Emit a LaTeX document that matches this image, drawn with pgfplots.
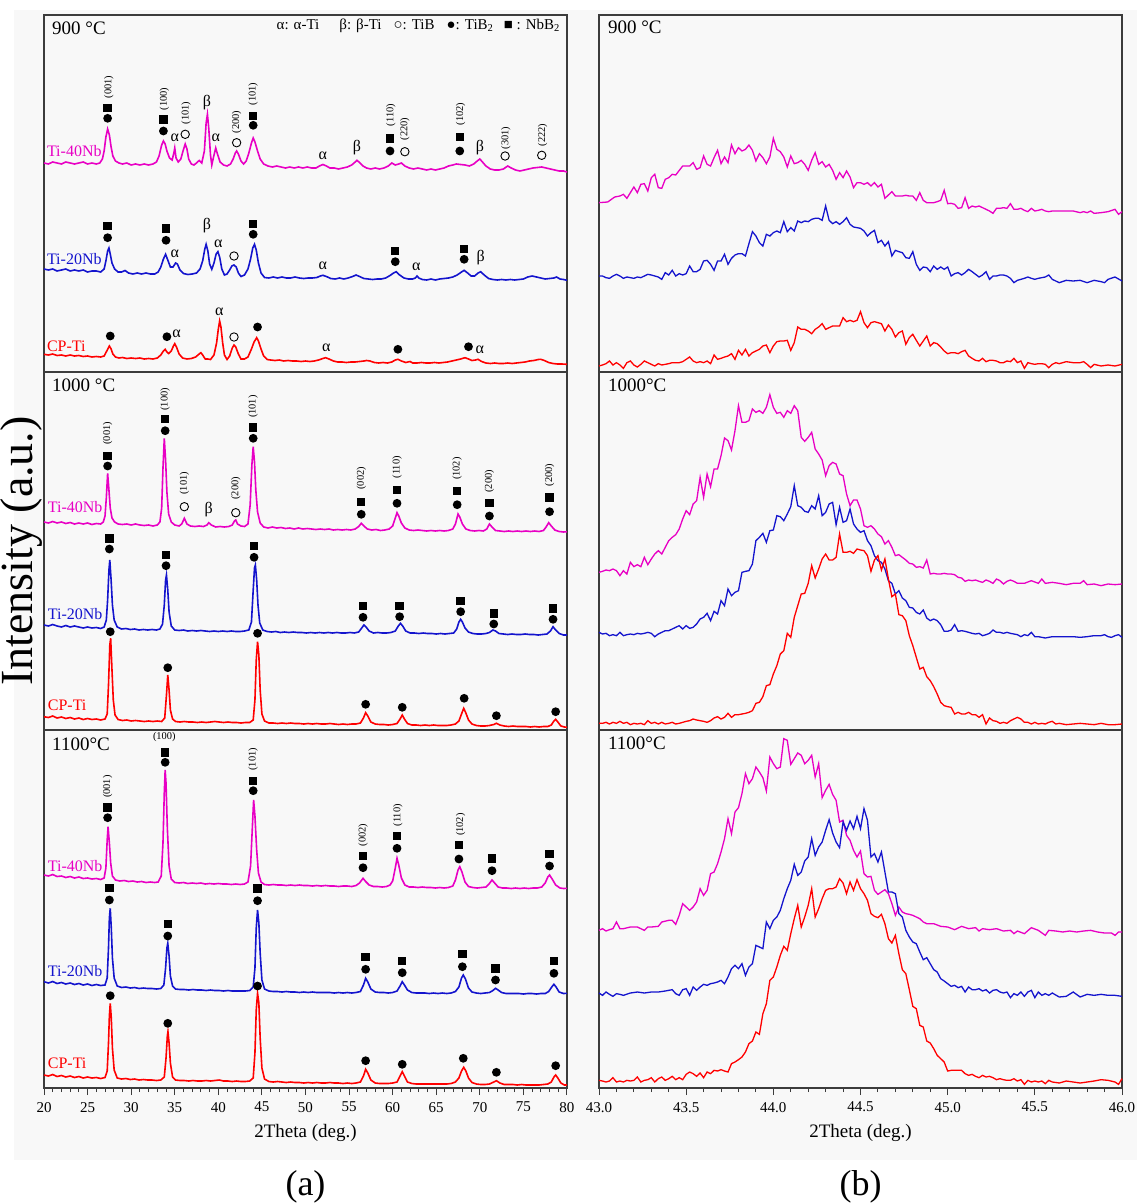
\documentclass[border=0pt]{standalone}
\usepackage{pgfplots}
\pgfplotsset{compat=1.18}
\usepackage{fontspec}
\setmainfont{Liberation Serif}
\definecolor{bgc}{HTML}{F8F8F8}
\definecolor{framec}{HTML}{3C3C3C}
\definecolor{magc}{RGB}{232,0,196}
\definecolor{bluc}{RGB}{20,20,205}
\definecolor{redc}{RGB}{255,0,0}
\newcommand{\D}[2]{\node[circle,fill=black,inner sep=0pt,minimum size=4.4pt] at (axis cs:#1,#2) {};}
\newcommand{\Sq}[2]{\node[rectangle,fill=black,inner sep=0pt,minimum size=4.2pt] at (axis cs:#1,#2) {};}
\newcommand{\Oc}[2]{\node[circle,draw=black,line width=0.45pt,inner sep=0pt,minimum size=4.2pt] at (axis cs:#1,#2) {};}
\newcommand{\Al}[2]{\node[font=\fontsize{8}{9}\selectfont,inner sep=0pt] at (axis cs:#1,#2) {α};}
\newcommand{\Be}[2]{\node[font=\fontsize{8}{9}\selectfont,inner sep=0pt] at (axis cs:#1,#2) {β};}
\newcommand{\Hk}[3]{\node[rotate=90,font=\fontsize{5.2}{6}\selectfont,inner sep=0pt] at (axis cs:#1,#2) {#3};}
\newcommand{\Lb}[4]{\node[anchor=west,text=#1,font=\fontsize{8}{9}\selectfont,inner sep=0pt] at (axis cs:#2,#3) {#4};}
\newcommand{\Ttl}[3]{\node[anchor=west,font=\fontsize{9.5}{11}\selectfont,inner sep=0pt] at (axis cs:#1,#2) {#3};}
\pgfplotsset{
 panel/.style={scale only axis, width=261.5pt, height=179pt, anchor=north west,
   axis background/.style={fill=bgc}, axis line style={draw=framec,line width=0.6pt},
   xtick=\empty, ytick=\empty, clip=false},
 lpanel/.style={panel, xmin=20, xmax=80, ymin=0, ymax=358, every axis plot/.append style={line width=0.8pt}},
 rpanel/.style={panel, xmin=43, xmax=46, every axis plot/.append style={line width=0.65pt}},
 bottomticks/.style={tick align=outside, xtick pos=left, minor x tick num=4,
   major tick length=3.5pt, minor tick length=2pt, tick style={framec,line width=0.5pt},
   xticklabel style={font=\fontsize{7.5}{9}\selectfont}, /pgf/number format/assume math mode=true}
}
\begin{document}
\begin{tikzpicture}
\useasboundingbox (0,0) rectangle (568.5pt,-602pt);
\fill[bgc] (7pt,-5pt) rectangle (568.5pt,-580pt);
%================ LEFT 900 ================
\begin{axis}[lpanel, at={(22pt,-7.5pt)}]
\addplot[magc] coordinates {(20,210)(20.5,209)(21,211)(21.5,210)(22,209)(22.5,211)(23,210)(23.5,209)(24,210)(24.5,211)(25,209)(25.5,210)(26,209)(26.4,210)(26.7,214)(26.9,222)(27.1,236)(27.3,244)(27.5,238)(27.7,226)(27.9,217)(28.2,212)(28.6,210)(29,209)(29.5,210)(30,208)(30.5,209)(31,208)(31.5,209)(32,208)(32.5,209)(32.9,211)(33.2,217)(33.5,228)(33.7,232)(33.9,229)(34.1,222)(34.4,215)(34.7,213)(34.9,220)(35,225)(35.15,215)(35.4,211)(35.7,214)(35.95,222)(36.2,229)(36.4,224)(36.6,214)(36.9,209)(37.2,208)(37.5,210)(37.8,212.5)(38.1,210)(38.4,222)(38.6,250)(38.75,258.7)(38.9,245)(39.1,218)(39.25,208)(39.45,216)(39.7,225)(39.9,219)(40.2,211)(40.6,208)(41,207)(41.4,209)(41.7,214)(41.95,220)(42.1,222)(42.3,219)(42.6,212)(42.9,209)(43.2,212)(43.5,220)(43.8,230)(44,235)(44.2,231)(44.5,222)(44.8,214)(45.2,209)(45.7,207)(46.2,206)(46.7,207)(47.2,206)(47.7,205)(48.2,206)(48.7,205)(49.2,206)(49.7,205)(50.2,206)(50.7,205)(51.2,205)(51.6,207)(52,208.5)(52.4,207)(52.8,205)(53.3,205)(53.8,204)(54.3,205)(54.8,206)(55.3,208)(55.7,211)(55.9,212.7)(56.2,210.5)(56.6,207)(57,205)(57.5,204)(58,205)(58.5,204)(59,205)(59.5,207)(59.9,210)(60.3,208)(60.7,209)(61,210)(61.4,207)(61.9,205)(62.4,204)(62.9,205)(63.4,204)(63.9,203)(64.4,204)(64.9,203)(65.4,204)(65.9,205)(66.4,207)(66.9,208)(67.3,209)(67.8,208.5)(68.3,208)(68.8,207)(69.3,209)(69.7,212)(70,214)(70.3,211)(70.7,207)(71.2,204)(71.7,203)(72.2,203)(72.7,204)(73.2,207)(73.6,205)(74.1,203)(74.6,202)(75.1,203)(75.6,204)(76.1,205)(76.6,205.5)(77.1,206)(77.6,205)(78.1,204)(78.6,203)(79.1,202)(79.6,202)(80,201)};
\addplot[bluc] coordinates {(20,104)(20.5,103)(21,104)(21.5,102)(22,103)(22.5,104)(23,102)(23.5,103)(24,102)(24.5,103)(25,101)(25.5,102)(26,102)(26.5,101)(26.9,104)(27.1,112)(27.3,122)(27.45,125)(27.6,119)(27.8,110)(28.1,104)(28.5,101)(28.9,101)(29.3,102.5)(29.7,100)(30.2,99)(30.7,100)(31.2,99)(31.7,100)(32.2,99)(32.7,99)(33.1,101)(33.4,106)(33.7,114)(33.95,118.7)(34.2,113)(34.5,106)(34.8,106)(35.1,110)(35.3,109)(35.6,103)(36,99.5)(36.5,98.5)(37,99)(37.5,100)(37.9,104)(38.2,112)(38.45,124)(38.6,128.7)(38.8,122)(39,109)(39.25,103.7)(39.5,110)(39.75,119)(39.95,121.3)(40.15,116)(40.4,104)(40.7,98)(41,99)(41.3,103)(41.55,107)(41.8,108)(42.05,106)(42.3,100)(42.6,96.5)(43,98)(43.4,104)(43.7,114)(43.95,125)(44.15,128.7)(44.35,123)(44.6,110)(44.9,100)(45.3,95.5)(45.8,95)(46.3,96)(46.8,95)(47.3,96)(47.8,95)(48.3,95)(48.8,96)(49.3,95)(49.8,94.5)(50.3,95)(50.8,95)(51.3,95.5)(51.7,97)(52,97.7)(52.4,96.5)(52.9,94.5)(53.4,94)(53.9,95)(54.4,94)(54.9,95)(55.4,96.5)(55.8,98)(56.2,96.5)(56.7,94.5)(57.2,94)(57.7,93.5)(58.2,94)(58.7,94)(59.2,95)(59.7,97.5)(60.1,100)(60.4,101.3)(60.8,98)(61.3,95)(61.8,94)(62.3,94)(62.6,95)(62.8,97)(63,95)(63.4,93.5)(63.9,93)(64.4,94)(64.9,93)(65.4,94)(65.9,94.5)(66.4,95)(66.9,96)(67.4,98)(67.9,101)(68.2,102.7)(68.6,100)(69,97)(69.4,97)(69.8,100)(70.1,101.3)(70.5,98)(71,94.5)(71.5,93.5)(72,93)(72.5,93.5)(73,93)(73.5,93.5)(74,93)(74.5,93.5)(75,94)(75.5,96)(76,97)(76.5,96)(77,95)(77.5,94)(78,94.5)(78.5,95)(78.8,96)(79.2,94)(79.6,93.5)(80,92.7)};
\addplot[redc] coordinates {(20,18.7)(20.5,18)(21,19)(21.5,17.5)(22,18)(22.5,17)(23,18)(23.5,17)(24,17.5)(24.5,16.5)(25,17)(25.5,16)(26,16.5)(26.5,16)(26.9,17)(27.2,22)(27.5,27)(27.7,24)(27.9,19)(28.2,16)(28.6,15)(29,15.5)(29.5,14.5)(30,15)(30.5,14.5)(31,15)(31.5,14)(32,14.5)(32.5,14)(33,15)(33.4,18)(33.7,22)(33.9,23.7)(34.1,21)(34.3,19.5)(34.6,22)(34.85,27)(35,29.3)(35.2,26)(35.5,19)(35.9,15)(36.4,14)(36.9,14.5)(37.4,16)(37.8,19)(38,20.3)(38.2,18)(38.5,14)(38.8,14)(39.1,13.5)(39.5,18)(39.8,30)(40,44)(40.15,52)(40.3,46)(40.5,30)(40.7,18)(41,13.5)(41.3,17)(41.6,25)(41.8,28)(42,26)(42.3,19)(42.6,14)(43,14)(43.4,16)(43.8,24)(44.1,31)(44.4,35.3)(44.6,32)(44.9,24)(45.2,17)(45.6,13.5)(46,13)(46.5,12.5)(47,13)(47.5,12)(48,12.5)(48.5,12)(49,12)(49.5,11.5)(50,12)(50.5,11.5)(51,12)(51.5,13)(52,14.5)(52.3,15.3)(52.7,14)(53.2,12)(53.7,11)(54.2,11)(54.7,10.5)(55.2,11)(55.7,11)(56.2,11.5)(56.7,12)(57,12.5)(57.4,12)(57.9,10.5)(58.4,10)(58.9,10.5)(59.4,10)(59.9,11)(60.3,13)(60.6,13.7)(61,12)(61.5,10.5)(62,11.5)(62.3,10)(62.8,10)(63.3,10.5)(63.8,10)(64.3,10)(64.8,10.5)(65.3,10)(65.8,10.5)(66.3,11)(66.8,12)(67.3,13)(67.8,14)(68.3,15.3)(68.7,14)(69.1,12.5)(69.5,13)(69.8,13.7)(70.2,11.5)(70.7,10)(71.2,9.5)(71.7,10)(72.2,9.5)(72.7,9.5)(73.2,10)(73.7,9.5)(74.2,10)(74.7,10.5)(75.2,11)(75.7,12)(76.2,12.5)(76.7,13.5)(77,13.7)(77.4,12.5)(77.9,10.5)(78.4,9.5)(78.9,9)(79.4,9)(80,8.7)};
\Ttl{20.9}{345}{900 °C}
\node[anchor=east,font=\fontsize{7.5}{9}\selectfont,inner sep=0pt] at (axis cs:79.3,347) {α: α-Ti\hspace{10pt}β: β-Ti\hspace{6pt}○: TiB\hspace{6pt}●: TiB\textsubscript{2}\hspace{5pt}■ : NbB\textsubscript{2}};
\Lb{magc}{20.3}{222}{Ti-40Nb} \Lb{bluc}{20.3}{113.7}{Ti-20Nb} \Lb{redc}{20.3}{27}{CP-Ti}
\Sq{27.3}{265.3} \D{27.3}{254.7} \Hk{27.45}{286}{(001)}
\Sq{33.7}{253.7} \D{33.7}{242} \Hk{33.8}{274}{(100)}
\Al{35.0}{234.7}
\Oc{36.2}{238.7} \Hk{36.3}{260}{(101)}
\Be{38.7}{270.3}
\Al{39.7}{235.3}
\Oc{42.1}{230.3} \Hk{42.1}{251}{(200)}
\Sq{44.0}{257} \D{44.0}{247.7} \Hk{44.0}{279}{(101)}
\Al{52.0}{217}
\Be{55.9}{225.3}
\Sq{59.7}{234.7} \D{59.7}{222} \Hk{59.8}{258}{(110)}
\Oc{61.4}{221.3} \Hk{61.4}{244}{(220)}
\Sq{67.7}{236.3} \D{67.7}{222} \Hk{67.8}{259}{(102)}
\Be{70.0}{225.3}
\Oc{72.9}{217} \Hk{73.0}{235}{(301)}
\Oc{77.1}{217.7} \Hk{77.2}{238}{(222)}
\Sq{27.3}{147} \D{27.3}{135.3}
\Sq{34.0}{144.7} \D{34.0}{132.7}
\Al{35.0}{119.3}
\Be{38.7}{147}
\Al{40.0}{129.3}
\Oc{41.8}{117}
\Sq{44.0}{149.3} \D{44.0}{138.7}
\Al{52.0}{107}
\Sq{60.3}{122} \D{60.3}{111.3}
\Al{62.7}{106}
\Sq{68.2}{124.3} \D{68.2}{113.7}
\Be{70.1}{115.3}
\D{27.6}{37}
\D{34.1}{36.3} \Al{35.2}{38.7}
\Al{40.1}{61.3}
\Oc{41.8}{36}
\D{44.5}{46}
\Al{52.4}{25.3}
\D{60.6}{23.7}
\D{68.7}{26.3} \Al{70.0}{22.7}
\end{axis}
%================ LEFT 1000 ================
\begin{axis}[lpanel, at={(22pt,-186pt)}]
\addplot[magc] coordinates {(20,208)(20.5,207)(21,208.5)(21.5,207)(22,208)(22.5,206.5)(23,207.5)(23.5,206)(24,207)(24.5,206)(25,207)(25.5,205.5)(26,206.5)(26.5,206)(26.8,208)(27,214)(27.15,232)(27.3,256.7)(27.45,240)(27.6,222)(27.8,212)(28.1,208)(28.5,206)(29,205.5)(29.5,206)(30,205)(30.5,206)(31,205)(31.5,204.5)(32,205)(32.5,204)(33,205)(33.3,208)(33.5,222)(33.65,262)(33.8,291.7)(33.95,270)(34.1,238)(34.3,216)(34.6,208)(35,205)(35.5,204)(35.8,206)(36.1,211.7)(36.4,206)(36.8,204)(37.3,203.5)(37.8,204)(38.3,203.5)(38.7,205)(38.9,207.3)(39.2,205)(39.7,203)(40.2,203.5)(40.7,203)(41.2,203.5)(41.6,205)(41.85,209)(42,210)(42.2,206)(42.6,204)(43,203.5)(43.4,206)(43.65,225)(43.85,265)(44,283.3)(44.15,268)(44.3,240)(44.5,218)(44.8,207)(45.2,203)(45.7,202)(46.2,203)(46.7,202)(47.2,202.5)(47.7,201.5)(48.2,202)(48.7,201)(49.2,202)(49.7,201)(50.2,201.5)(50.7,201)(51.2,200.5)(51.7,201)(52.2,200.5)(52.7,201)(53.2,200)(53.7,200.5)(54.2,200)(54.7,200.5)(55.2,200)(55.7,201)(56.1,203.5)(56.4,206.7)(56.7,204)(57.1,201)(57.6,200)(58.1,200.5)(58.6,199.5)(59.1,200)(59.6,201)(60,204)(60.3,212)(60.5,217.3)(60.7,214)(61,207)(61.4,202)(61.9,200)(62.4,199.5)(62.9,200)(63.4,199.5)(63.9,199)(64.4,199.5)(64.9,199)(65.4,199.5)(65.9,199)(66.4,199.5)(66.9,201)(67.2,206)(67.5,216)(67.7,213)(68,206)(68.4,201)(68.9,199.5)(69.4,199)(69.9,199.5)(70.4,199)(70.8,201)(71.1,206)(71.4,203)(71.8,199.5)(72.3,199)(72.8,198.5)(73.3,199)(73.8,198.5)(74.3,199)(74.8,198.5)(75.3,199)(75.8,198.5)(76.3,199)(76.8,198.5)(77.3,199.5)(77.6,203)(77.9,207.3)(78.2,204)(78.6,200)(79.1,198.5)(79.6,198)(80,198.3)};
\addplot[bluc] coordinates {(20,105)(20.5,104)(21,105.5)(21.5,104)(22,103)(22.5,104.5)(23,103)(23.5,104)(24,103)(24.5,102)(25,103)(25.5,102)(26,102.5)(26.5,101.5)(26.9,103)(27.15,110)(27.3,130)(27.45,160)(27.55,170)(27.7,150)(27.85,125)(28.05,110)(28.4,103)(28.9,101)(29.4,101.5)(29.9,100.5)(30.4,101)(30.9,100)(31.4,100.5)(31.9,100)(32.4,100.5)(32.9,100)(33.3,101)(33.6,106)(33.8,125)(33.95,150)(34.05,155)(34.2,140)(34.35,118)(34.6,104)(35,100)(35.5,99.5)(36,100)(36.5,99)(37,99.5)(37.5,99)(38,99.5)(38.5,99)(39,98.5)(39.5,99)(40,98.5)(40.5,99)(41,98.5)(41.5,99)(42,98.5)(42.5,98.5)(43,99)(43.5,100)(43.8,108)(44,140)(44.15,162)(44.25,165)(44.4,150)(44.55,125)(44.75,107)(45.1,100)(45.6,98.5)(46.1,98)(46.6,98.5)(47.1,97.5)(47.6,98)(48.1,97.5)(48.6,98)(49.1,97.5)(49.6,97.5)(50.1,97)(50.6,97.5)(51.1,97)(51.6,97.5)(52.1,97)(52.6,97.5)(53.1,97)(53.6,97.5)(54.1,97)(54.6,97)(55.1,97.5)(55.6,97)(56.1,98)(56.45,102)(56.7,105)(56.95,103)(57.3,99)(57.8,97)(58.3,97.5)(58.8,97)(59.3,97)(59.8,97.5)(60.3,99)(60.65,104)(60.9,106.7)(61.15,104)(61.5,99)(62,97)(62.5,97)(63,96.5)(63.5,97)(64,96.5)(64.5,96.5)(65,96)(65.5,96.5)(66,96)(66.5,96.5)(67,97)(67.35,101)(67.6,108)(67.8,110.7)(68,108)(68.3,102)(68.7,98)(69.2,96.5)(69.7,96)(70.2,96)(70.7,96.5)(71.1,97.5)(71.5,100)(71.8,99)(72.2,96.5)(72.7,96)(73.2,95.5)(73.7,96)(74.2,95.5)(74.7,95.5)(75.2,96)(75.7,95.5)(76.2,95.5)(76.7,95)(77.2,95.5)(77.7,96)(78.1,99)(78.4,103.3)(78.7,100)(79.1,96.5)(79.6,95)(80,95)};
\addplot[redc] coordinates {(20,13.3)(20.5,12.5)(21,14)(21.5,12)(22,13)(22.5,11.5)(23,12.5)(23.5,11)(24,12)(24.5,10.5)(25,11.5)(25.5,10.5)(26,11)(26.5,10)(27,11)(27.25,16)(27.4,45)(27.55,85)(27.65,91.7)(27.8,60)(27.95,30)(28.15,15)(28.5,10.5)(29,9.5)(29.5,10)(30,9)(30.5,9.5)(31,9)(31.5,8.5)(32,9)(32.5,8.5)(33,9)(33.5,8.5)(33.85,12)(34.05,35)(34.2,55)(34.35,40)(34.5,20)(34.75,11)(35.1,8.5)(35.6,8)(36.1,8.5)(36.6,8)(37.1,8)(37.6,7.5)(38.1,8)(38.6,7.5)(39.1,8)(39.6,8.5)(40.1,8)(40.6,7.5)(41.1,8)(41.6,7.5)(42.1,7.5)(42.6,7)(43.1,7.5)(43.6,7.5)(44,10)(44.2,30)(44.35,70)(44.5,88.3)(44.65,75)(44.8,40)(45,16)(45.3,9)(45.8,7)(46.3,7)(46.8,6.5)(47.3,7)(47.8,6.5)(48.3,7)(48.8,6.5)(49.3,6.5)(49.8,6)(50.3,6.5)(50.8,6)(51.3,6.5)(51.8,6)(52.3,6)(52.8,6.5)(53.3,6)(53.8,5.5)(54.3,6)(54.8,5.5)(55.3,6)(55.8,6)(56.3,7)(56.65,12)(56.9,17.3)(57.15,14)(57.5,8)(58,6)(58.5,5.5)(59,5.5)(59.5,5)(60,5.5)(60.5,6.5)(60.85,11)(61.1,15)(61.35,11)(61.7,6.5)(62.2,5)(62.7,5)(63.2,4.5)(63.7,5)(64.2,4.5)(64.7,5)(65.2,4.5)(65.7,4.5)(66.2,4.5)(66.7,5)(67.2,6)(67.6,9)(67.9,16)(68.15,21.7)(68.4,17)(68.7,10)(69.1,6)(69.6,4.5)(70.1,4)(70.6,4)(71.1,4.5)(71.6,5.5)(71.9,6.7)(72.3,5)(72.8,4)(73.3,3.5)(73.8,4)(74.3,3.5)(74.8,3.5)(75.3,3.5)(75.8,3)(76.3,3.5)(76.8,3)(77.3,3.5)(77.8,3.5)(78.2,5)(78.5,9)(78.7,10.7)(78.95,8)(79.3,4)(79.7,3)(80,2.7)};
\Ttl{20.9}{345}{1000 °C}
\Lb{magc}{20.4}{222.7}{Ti-40Nb} \Lb{bluc}{20.4}{115.7}{Ti-20Nb} \Lb{redc}{20.4}{25}{CP-Ti}
\Sq{27.3}{274} \D{27.3}{264} \Hk{27.3}{296.7}{(001)}
\Sq{33.9}{311} \D{33.9}{299.3} \Hk{33.9}{330.7}{(100)}
\Oc{36.1}{223.3} \Hk{36.1}{246.7}{(101)}
\Be{38.9}{220}
\Oc{42.0}{217.3} \Hk{42.0}{241.7}{(200)}
\Sq{44.0}{302.7} \D{44.0}{291.7} \Hk{44.0}{323.3}{(101)}
\Sq{56.4}{228.3} \D{56.4}{215.7} \Hk{56.4}{251.7}{(002)}
\Sq{60.5}{240} \D{60.5}{226.7} \Hk{60.5}{262.7}{(110)}
\Sq{67.4}{239.3} \D{67.4}{225.3} \Hk{67.4}{261.3}{(102)}
\Sq{71.1}{227.3} \D{71.1}{214} \Hk{71.1}{248.7}{(200)}
\Sq{78.0}{232.7} \D{78.0}{218.3} \Hk{78.0}{255}{(200)}
\Sq{27.5}{191.7} \D{27.5}{181}
\Sq{34.0}{175} \D{34.0}{164.3}
\Sq{44.1}{184} \D{44.1}{172.7}
\Sq{56.6}{124} \D{56.6}{112.7}
\Sq{60.8}{124} \D{60.8}{113.3}
\Sq{67.8}{129.3} \D{67.8}{118.3}
\Sq{71.6}{116.7} \D{71.6}{106}
\Sq{78.4}{121.7} \D{78.4}{110.7}
\D{27.6}{98.3} \D{34.2}{62.3} \D{44.5}{96.7} \D{56.9}{25.7} \D{61.1}{22.7} \D{68.2}{31.7} \D{71.9}{14.3} \D{78.7}{18.3}
\end{axis}
%================ LEFT 1100 ================
\begin{axis}[lpanel, bottomticks, at={(22pt,-365pt)}, xtick={20,25,30,35,40,45,50,55,60,65,70,75,80}]
\addplot[magc] coordinates {(20,213)(20.5,212)(21,213.5)(21.5,211.5)(22,212)(22.5,210.5)(23,211.5)(23.5,210)(24,211)(24.5,209.5)(25,210)(25.5,209)(26,209.5)(26.5,208.5)(26.9,210)(27.1,220)(27.25,248)(27.35,261.3)(27.5,245)(27.65,225)(27.85,212)(28.2,208)(28.7,207)(29.2,207.5)(29.7,206.5)(30.2,207)(30.7,206)(31.2,206.5)(31.7,205.5)(32.2,206)(32.7,205.5)(33.1,206)(33.45,212)(33.65,245)(33.8,295)(33.9,318)(34,305)(34.15,260)(34.35,222)(34.6,209)(35,205.5)(35.5,205)(36,205.5)(36.5,204.5)(37,205)(37.5,204.5)(38,205)(38.5,204)(39,204.5)(39.5,204)(40,204.5)(40.5,204)(41,204)(41.5,203.5)(42,204)(42.5,203.5)(43,204)(43.4,206)(43.7,222)(43.9,260)(44.05,288)(44.2,272)(44.4,238)(44.6,215)(44.9,206)(45.3,203.5)(45.8,203)(46.3,203.5)(46.8,203)(47.3,203)(47.8,202.5)(48.3,203)(48.8,202.5)(49.3,203)(49.8,202.5)(50.3,202.5)(50.8,202)(51.3,202.5)(51.8,202)(52.3,202.5)(52.8,202)(53.3,202)(53.8,201.5)(54.3,202)(54.8,202)(55.3,201.5)(55.8,202.5)(56.2,205)(56.6,209.7)(56.9,206.5)(57.3,203)(57.8,201.5)(58.3,201.5)(58.8,201)(59.3,201.5)(59.7,203)(60,207)(60.3,220)(60.5,229.7)(60.7,223)(61,210)(61.4,203)(61.9,201)(62.4,201)(62.9,200.5)(63.4,201)(63.9,200.5)(64.4,200.5)(64.9,200)(65.4,200.5)(65.9,200)(66.4,200.5)(66.9,202)(67.2,208)(67.5,218)(67.7,221.3)(67.95,216)(68.3,206)(68.7,201.5)(69.2,200.5)(69.7,200)(70.2,200.5)(70.7,201)(71.1,204.5)(71.4,208)(71.7,205)(72.1,201)(72.6,200)(73.1,200)(73.6,199.5)(74.1,200)(74.6,199.5)(75.1,200)(75.6,199.5)(76.1,200)(76.6,200)(77.1,201)(77.5,205)(77.8,211)(78,213)(78.3,209)(78.7,203)(79.2,200)(79.6,199.5)(80,199.7)};
\addplot[bluc] coordinates {(20,106.3)(20.5,105)(21,106.5)(21.5,104.5)(22,105.5)(22.5,104)(23,105)(23.5,103.5)(24,104.5)(24.5,103)(25,104)(25.5,102.5)(26,103.5)(26.5,102.5)(27,103)(27.25,110)(27.4,140)(27.5,170)(27.6,179.7)(27.72,160)(27.85,130)(28.05,110)(28.4,102)(28.9,100.5)(29.4,101)(29.9,100)(30.4,100.5)(30.9,99.5)(31.4,100)(31.9,99.5)(32.4,99.5)(32.9,99)(33.4,99.5)(33.75,103)(33.95,120)(34.1,140)(34.2,144.7)(34.35,132)(34.5,112)(34.75,102)(35.1,99)(35.6,98.5)(36.1,98.5)(36.6,98)(37.1,98.5)(37.6,98)(38.1,98)(38.6,97.5)(39.1,98)(39.6,97.5)(40.1,97.5)(40.6,97)(41.1,97.5)(41.6,97)(42.1,97)(42.6,97)(43.1,97)(43.6,97.5)(44,101)(44.2,120)(44.35,160)(44.5,178)(44.65,165)(44.8,135)(45,108)(45.3,99)(45.8,97)(46.3,96.5)(46.8,96.5)(47.3,96)(47.8,96.5)(48.3,96)(48.8,96)(49.3,95.5)(49.8,96)(50.3,95.5)(50.8,96)(51.3,95.5)(51.8,95.5)(52.3,95.5)(52.8,95.5)(53.3,95)(53.8,95.5)(54.3,95)(54.8,95.5)(55.3,95)(55.8,95.5)(56.3,96.5)(56.65,103)(56.9,109.7)(57.15,106)(57.5,99)(58,96)(58.5,95.5)(59,95.5)(59.5,95)(60,95.5)(60.5,97)(60.85,102)(61.1,106.3)(61.35,103)(61.7,98)(62.2,95.5)(62.7,95)(63.2,95)(63.7,95)(64.2,94.5)(64.7,95)(65.2,94.5)(65.7,95)(66.2,94.5)(66.7,95)(67.2,96.5)(67.6,101)(67.9,110)(68.1,113)(68.35,109)(68.7,100)(69.1,96)(69.6,95)(70.1,94.5)(70.6,95)(71.1,95.5)(71.5,97.5)(71.8,99.7)(72.1,98)(72.5,95.5)(73,94.5)(73.5,94.5)(74,94.5)(74.5,94.5)(75,94)(75.5,94.5)(76,94.5)(76.5,94)(77,94.5)(77.5,94.5)(77.9,96.5)(78.25,101)(78.5,103.7)(78.75,101)(79.1,96)(79.6,94.5)(80,94.7)};
\addplot[redc] coordinates {(20,13)(20.5,12)(21,13.5)(21.5,11.5)(22,12.5)(22.5,11)(23,12)(23.5,10.5)(24,11.5)(24.5,10)(25,11)(25.5,10)(26,10.5)(26.5,9.5)(27,10.5)(27.25,17)(27.4,45)(27.5,72)(27.6,84.7)(27.72,70)(27.85,40)(28.05,18)(28.4,10)(28.9,9)(29.4,9.5)(29.9,8.5)(30.4,9)(30.9,8)(31.4,8.5)(31.9,8)(32.4,8)(32.9,7.5)(33.4,8)(33.8,11)(34,30)(34.15,52)(34.22,56.3)(34.35,45)(34.5,25)(34.75,11)(35.1,8)(35.6,7.5)(36.1,7.5)(36.6,7)(37.1,7.5)(37.6,7)(38.1,7)(38.6,7.5)(39.1,7)(39.6,7.5)(40.1,8)(40.6,7)(41.1,7)(41.6,6.5)(42.1,7)(42.6,6.5)(43.1,6.5)(43.6,7)(44,10)(44.2,35)(44.35,78)(44.5,94.7)(44.65,85)(44.8,50)(45,20)(45.3,9)(45.8,6.5)(46.3,6)(46.8,6.5)(47.3,6)(47.8,5.5)(48.3,6)(48.8,5.5)(49.3,5.5)(49.8,5)(50.3,5.5)(50.8,5)(51.3,5.5)(51.8,5)(52.3,5)(52.8,5.5)(53.3,5)(53.8,5)(54.3,4.5)(54.8,5)(55.3,4.5)(55.8,5)(56.3,6)(56.65,12)(56.9,18.7)(57.15,15)(57.5,8)(58,5)(58.5,4.5)(59,4.5)(59.5,4.5)(60,5)(60.5,6)(60.85,12)(61.1,16.3)(61.35,12)(61.7,6)(62.2,4.5)(62.7,4)(63.2,4)(63.7,4)(64.2,4)(64.7,4)(65.2,4)(65.7,4)(66.2,4)(66.7,4.5)(67.2,6)(67.6,10)(67.9,17)(68.15,20.7)(68.4,17)(68.7,10)(69.1,5.5)(69.6,4)(70.1,3.5)(70.6,3.5)(71.1,4)(71.6,6)(71.9,7.3)(72.3,5)(72.8,3.5)(73.3,3.5)(73.8,3.5)(74.3,3)(74.8,3.5)(75.3,3)(75.8,3)(76.3,3)(76.8,3)(77.3,3.5)(77.8,4)(78.2,6)(78.5,11)(78.7,13)(78.95,10)(79.3,5)(79.7,3)(80,3)};
\Ttl{20.9}{344}{1100°C}
\Lb{magc}{20.4}{222}{Ti-40Nb} \Lb{bluc}{20.4}{117}{Ti-20Nb} \Lb{redc}{20.4}{24.7}{CP-Ti}
\Sq{27.3}{280.7} \D{27.3}{270.3} \Hk{27.3}{301.3}{(001)}
\Sq{33.9}{335.7} \D{33.9}{325.7} \node[font=\fontsize{5.2}{6}\selectfont,inner sep=0pt] at (axis cs:33.8,350.7) {(100)};
\Sq{44.0}{307.3} \D{44.0}{297.3} \Hk{44.0}{328.7}{(101)}
\Sq{56.6}{232.3} \D{56.6}{220.3} \Hk{56.6}{253}{(002)}
\Sq{60.5}{252} \D{60.5}{239.7} \Hk{60.6}{272.7}{(110)}
\Sq{67.6}{243} \D{67.6}{229} \Hk{67.8}{263.3}{(102)}
\Sq{71.4}{229.7} \D{71.4}{217.3}
\Sq{78.0}{234} \D{78.0}{222}
\Sq{27.5}{200.3} \D{27.5}{188}
\Sq{34.2}{164} \D{34.2}{152}
\Sq{44.5}{199.7} \D{44.5}{187.3}
\Sq{56.9}{131.3} \D{56.9}{118.7}
\Sq{61.1}{127.3} \D{61.1}{115.3}
\Sq{68.0}{134} \D{68.0}{121.3}
\Sq{71.8}{119.7} \D{71.8}{108}
\Sq{78.5}{127.3} \D{78.5}{114.7}
\D{27.6}{92.3} \D{34.2}{64.7} \D{44.5}{102} \D{56.9}{27.3} \D{61.1}{23.7} \D{68.1}{29.7} \D{71.9}{15.7} \D{78.7}{22.3}
\end{axis}
%================ RIGHT 900 ================
\begin{axis}[rpanel, at={(299.5pt,-7.5pt)}, ymin=84, ymax=1158]
\addplot[magc] coordinates {(43.00,595)(43.05,597)(43.09,612)(43.12,615)(43.14,620)(43.16,608)(43.18,625)(43.20,642)(43.22,625)(43.24,650)(43.26,652)(43.28,630)(43.30,670)(43.32,680)(43.34,640)(43.36,638)(43.38,665)(43.40,670)(43.42,680)(43.44,678)(43.48,705)(43.52,705)(43.54,715)(43.56,695)(43.58,700)(43.60,735)(43.62,710)(43.64,705)(43.66,730)(43.68,752)(43.70,712)(43.72,732)(43.74,715)(43.76,768)(43.78,742)(43.80,760)(43.82,750)(43.84,755)(43.86,768)(43.88,752)(43.90,720)(43.92,742)(43.94,730)(43.96,712)(43.98,732)(44.00,788)(44.02,755)(44.04,748)(44.06,732)(44.08,702)(44.10,735)(44.12,712)(44.14,715)(44.16,722)(44.18,710)(44.20,692)(44.22,722)(44.24,745)(44.26,710)(44.28,718)(44.30,702)(44.32,710)(44.34,692)(44.36,665)(44.38,685)(44.40,670)(44.42,690)(44.44,672)(44.46,640)(44.48,655)(44.50,655)(44.52,650)(44.54,655)(44.56,645)(44.58,655)(44.60,642)(44.62,650)(44.64,608)(44.66,618)(44.68,628)(44.70,615)(44.72,615)(44.74,615)(44.76,617)(44.78,615)(44.80,615)(44.82,602)(44.84,625)(44.86,602)(44.88,595)(44.90,595)(44.92,595)(44.94,598)(44.96,602)(44.98,632)(45.00,592)(45.02,593)(45.04,590)(45.06,578)(45.08,580)(45.10,610)(45.12,578)(45.14,585)(45.16,582)(45.18,585)(45.20,580)(45.22,575)(45.24,570)(45.26,563)(45.28,578)(45.30,578)(45.32,580)(45.34,578)(45.36,592)(45.38,575)(45.40,575)(45.42,578)(45.44,572)(45.46,568)(45.48,578)(45.50,570)(45.52,572)(45.54,575)(45.56,570)(45.58,568)(45.60,570)(45.64,570)(45.68,570)(45.72,570)(45.76,565)(45.78,568)(45.80,565)(45.82,570)(45.84,563)(45.88,565)(45.92,568)(45.96,575)(45.98,560)(46.00,568)};
\addplot[bluc] coordinates {(43.00,375)(43.02,375)(43.04,370)(43.06,368)(43.08,375)(43.10,380)(43.12,375)(43.14,368)(43.16,372)(43.18,370)(43.20,368)(43.22,372)(43.24,370)(43.26,375)(43.28,380)(43.30,378)(43.32,375)(43.34,372)(43.36,365)(43.38,385)(43.40,378)(43.42,392)(43.44,375)(43.46,382)(43.48,378)(43.50,382)(43.52,405)(43.54,388)(43.56,388)(43.58,395)(43.60,420)(43.62,422)(43.64,410)(43.66,392)(43.68,420)(43.70,420)(43.72,440)(43.74,410)(43.76,428)(43.78,438)(43.80,442)(43.82,442)(43.84,435)(43.86,472)(43.88,508)(43.90,495)(43.92,475)(43.94,465)(43.96,500)(43.98,495)(44.00,505)(44.02,510)(44.04,505)(44.06,538)(44.08,508)(44.10,520)(44.12,510)(44.14,540)(44.16,535)(44.18,540)(44.20,538)(44.22,545)(44.24,548)(44.26,548)(44.28,542)(44.30,585)(44.32,542)(44.34,532)(44.36,538)(44.38,530)(44.40,538)(44.42,550)(44.44,530)(44.46,522)(44.48,520)(44.50,518)(44.52,510)(44.54,495)(44.56,505)(44.58,512)(44.60,475)(44.62,482)(44.64,465)(44.66,478)(44.68,435)(44.70,452)(44.72,448)(44.74,445)(44.76,430)(44.78,428)(44.80,448)(44.82,410)(44.84,392)(44.86,402)(44.88,400)(44.90,388)(44.92,405)(44.94,395)(44.96,402)(44.98,395)(45.00,402)(45.02,375)(45.04,382)(45.06,385)(45.08,378)(45.10,385)(45.12,395)(45.14,388)(45.16,380)(45.18,372)(45.20,378)(45.22,388)(45.24,365)(45.26,375)(45.28,375)(45.30,378)(45.32,378)(45.34,375)(45.36,368)(45.38,355)(45.40,362)(45.42,365)(45.44,368)(45.46,372)(45.48,368)(45.50,365)(45.52,368)(45.54,370)(45.56,372)(45.58,378)(45.60,365)(45.64,355)(45.68,362)(45.72,360)(45.76,362)(45.80,355)(45.84,362)(45.88,358)(45.90,355)(45.92,365)(45.96,372)(46.00,360)};
\addplot[redc] coordinates {(43.00,105)(43.02,108)(43.04,112)(43.06,120)(43.08,108)(43.10,115)(43.12,108)(43.14,98)(43.16,115)(43.18,120)(43.20,108)(43.22,102)(43.24,110)(43.26,120)(43.28,115)(43.30,110)(43.32,105)(43.34,112)(43.36,108)(43.38,110)(43.40,112)(43.42,115)(43.44,115)(43.46,115)(43.48,118)(43.50,125)(43.52,132)(43.54,120)(43.56,115)(43.58,118)(43.60,115)(43.62,120)(43.64,112)(43.66,138)(43.68,125)(43.70,128)(43.72,132)(43.74,135)(43.76,142)(43.78,125)(43.80,152)(43.82,138)(43.84,155)(43.86,135)(43.88,145)(43.90,150)(43.92,155)(43.94,165)(43.96,168)(43.98,145)(44.00,165)(44.02,178)(44.04,180)(44.06,180)(44.08,182)(44.10,152)(44.12,175)(44.14,222)(44.16,215)(44.18,215)(44.20,210)(44.22,202)(44.24,215)(44.26,222)(44.28,232)(44.30,215)(44.32,220)(44.34,225)(44.36,225)(44.38,225)(44.40,250)(44.42,238)(44.44,242)(44.46,238)(44.48,242)(44.50,268)(44.52,235)(44.54,220)(44.56,235)(44.58,238)(44.60,235)(44.62,232)(44.64,210)(44.66,228)(44.68,215)(44.70,192)(44.72,205)(44.74,210)(44.76,170)(44.78,190)(44.80,200)(44.82,182)(44.84,165)(44.86,180)(44.88,195)(44.90,165)(44.92,175)(44.94,172)(44.96,162)(44.98,150)(45.00,142)(45.02,145)(45.04,145)(45.06,142)(45.08,148)(45.10,152)(45.12,135)(45.14,128)(45.16,122)(45.18,120)(45.20,128)(45.22,118)(45.24,122)(45.26,122)(45.28,120)(45.30,115)(45.32,115)(45.34,120)(45.36,118)(45.38,128)(45.40,115)(45.42,120)(45.44,98)(45.46,115)(45.48,112)(45.50,110)(45.52,112)(45.54,112)(45.56,110)(45.58,100)(45.60,110)(45.62,115)(45.64,112)(45.68,118)(45.72,115)(45.76,115)(45.78,118)(45.80,110)(45.82,100)(45.84,110)(45.88,105)(45.92,108)(45.96,105)(46.00,110)};
\Ttl{43.05}{1120}{900 °C}
\end{axis}
%================ RIGHT 1000 ================
\begin{axis}[rpanel, at={(299.5pt,-186pt)}, ymin=92, ymax=1166]
\addplot[magc] coordinates {(43.00,565)(43.02,568)(43.04,572)(43.06,570)(43.08,575)(43.10,570)(43.12,555)(43.14,570)(43.16,560)(43.18,595)(43.20,582)(43.22,588)(43.24,582)(43.26,610)(43.28,588)(43.30,605)(43.32,620)(43.34,630)(43.36,620)(43.38,640)(43.40,660)(43.42,670)(43.44,678)(43.46,695)(43.48,725)(43.50,750)(43.52,738)(43.54,770)(43.56,780)(43.58,850)(43.60,790)(43.62,860)(43.64,822)(43.66,875)(43.68,875)(43.70,915)(43.72,968)(43.74,960)(43.76,932)(43.78,990)(43.80,1065)(43.82,1015)(43.84,1015)(43.86,1020)(43.88,1055)(43.90,1045)(43.92,1050)(43.94,1042)(43.96,1060)(43.98,1098)(44.00,1060)(44.02,1042)(44.04,1045)(44.06,1030)(44.08,1050)(44.10,1042)(44.12,1065)(44.14,1050)(44.16,970)(44.18,958)(44.20,970)(44.22,985)(44.24,935)(44.26,920)(44.28,902)(44.30,855)(44.32,885)(44.34,895)(44.36,890)(44.38,860)(44.40,855)(44.42,800)(44.44,765)(44.46,782)(44.48,782)(44.50,755)(44.52,705)(44.54,700)(44.56,705)(44.58,695)(44.60,680)(44.62,672)(44.64,650)(44.66,660)(44.68,640)(44.70,615)(44.72,618)(44.74,610)(44.76,602)(44.78,592)(44.80,590)(44.82,580)(44.84,582)(44.86,578)(44.88,602)(44.90,560)(44.92,562)(44.94,560)(44.96,560)(44.98,562)(45.00,560)(45.02,560)(45.04,558)(45.06,550)(45.08,548)(45.10,538)(45.12,542)(45.14,540)(45.16,542)(45.18,538)(45.20,535)(45.22,542)(45.24,538)(45.26,532)(45.28,545)(45.30,540)(45.32,530)(45.34,538)(45.36,542)(45.38,538)(45.40,532)(45.44,532)(45.48,540)(45.52,532)(45.54,545)(45.56,532)(45.60,535)(45.64,532)(45.68,528)(45.72,532)(45.76,532)(45.78,540)(45.80,528)(45.84,530)(45.88,525)(45.92,530)(45.96,528)(46.00,530)};
\addplot[bluc] coordinates {(43.00,385)(43.02,380)(43.04,382)(43.06,375)(43.08,378)(43.10,375)(43.12,385)(43.14,375)(43.16,378)(43.18,380)(43.20,378)(43.22,382)(43.24,380)(43.26,382)(43.28,385)(43.30,382)(43.32,372)(43.34,380)(43.36,385)(43.38,390)(43.40,390)(43.42,395)(43.44,400)(43.46,405)(43.48,395)(43.50,405)(43.52,397)(43.54,400)(43.56,410)(43.58,425)(43.60,430)(43.62,442)(43.64,420)(43.66,448)(43.68,440)(43.70,480)(43.72,465)(43.74,515)(43.76,495)(43.78,505)(43.80,510)(43.82,565)(43.84,568)(43.86,570)(43.88,590)(43.90,660)(43.92,670)(43.94,682)(43.96,655)(43.98,690)(44.00,692)(44.02,735)(44.04,732)(44.06,720)(44.08,740)(44.10,762)(44.12,825)(44.14,765)(44.16,760)(44.18,748)(44.20,745)(44.22,765)(44.24,755)(44.26,795)(44.28,735)(44.30,745)(44.32,770)(44.34,775)(44.36,708)(44.38,760)(44.40,715)(44.42,720)(44.44,755)(44.46,710)(44.48,695)(44.50,685)(44.52,690)(44.54,660)(44.56,645)(44.58,615)(44.60,600)(44.62,595)(44.64,575)(44.66,540)(44.68,532)(44.70,500)(44.72,510)(44.74,488)(44.76,480)(44.78,460)(44.80,458)(44.82,445)(44.84,440)(44.86,452)(44.88,428)(44.90,420)(44.92,425)(44.94,420)(44.96,408)(44.98,388)(45.00,388)(45.02,392)(45.04,408)(45.06,388)(45.08,390)(45.10,388)(45.12,385)(45.14,382)(45.16,380)(45.18,382)(45.20,375)(45.22,378)(45.24,382)(45.26,392)(45.28,385)(45.30,385)(45.32,382)(45.34,385)(45.36,382)(45.38,380)(45.40,378)(45.42,372)(45.44,378)(45.46,375)(45.48,385)(45.50,372)(45.52,372)(45.54,370)(45.56,368)(45.60,372)(45.64,372)(45.68,372)(45.72,372)(45.76,370)(45.80,372)(45.84,375)(45.88,375)(45.90,378)(45.92,372)(45.94,370)(45.96,375)(45.98,378)(46.00,370)};
\addplot[redc] coordinates {(43.00,112)(43.02,112)(43.04,115)(43.06,110)(43.08,115)(43.10,112)(43.12,118)(43.14,112)(43.16,115)(43.18,108)(43.20,112)(43.22,110)(43.24,112)(43.26,108)(43.28,120)(43.30,112)(43.32,115)(43.34,110)(43.36,115)(43.38,110)(43.40,112)(43.42,115)(43.44,110)(43.46,112)(43.48,115)(43.50,118)(43.52,120)(43.54,125)(43.56,122)(43.58,120)(43.60,118)(43.62,115)(43.64,120)(43.66,128)(43.68,132)(43.70,125)(43.72,130)(43.74,142)(43.76,130)(43.78,138)(43.80,138)(43.82,140)(43.84,142)(43.86,145)(43.88,150)(43.90,172)(43.92,175)(43.94,192)(43.96,225)(43.98,228)(44.00,260)(44.02,285)(44.04,320)(44.06,330)(44.08,382)(44.10,370)(44.12,430)(44.14,465)(44.16,500)(44.18,502)(44.20,532)(44.22,585)(44.24,548)(44.26,575)(44.28,605)(44.30,620)(44.32,602)(44.34,602)(44.36,610)(44.38,680)(44.40,625)(44.42,625)(44.44,628)(44.46,622)(44.48,635)(44.50,632)(44.52,630)(44.54,615)(44.56,568)(44.58,602)(44.60,615)(44.62,572)(44.64,605)(44.66,545)(44.68,492)(44.70,500)(44.72,438)(44.74,435)(44.76,420)(44.78,375)(44.80,345)(44.82,310)(44.84,275)(44.86,280)(44.88,252)(44.90,240)(44.92,222)(44.94,200)(44.96,175)(44.98,165)(45.00,162)(45.02,160)(45.04,140)(45.06,145)(45.08,140)(45.10,140)(45.12,145)(45.14,138)(45.16,138)(45.18,130)(45.20,138)(45.22,110)(45.24,128)(45.26,120)(45.28,118)(45.30,112)(45.32,115)(45.34,112)(45.36,120)(45.38,125)(45.40,130)(45.42,125)(45.44,115)(45.46,115)(45.48,110)(45.50,115)(45.52,110)(45.54,112)(45.56,110)(45.58,115)(45.60,118)(45.62,110)(45.64,112)(45.68,108)(45.72,110)(45.76,112)(45.80,110)(45.84,108)(45.88,112)(45.92,108)(45.96,108)(46.00,110)};
\Ttl{43.05}{1125}{1000°C}
\end{axis}
%================ RIGHT 1100 ================
\begin{axis}[rpanel, bottomticks, at={(299.5pt,-365pt)}, ymin=97, ymax=1171, xtick={43,43.5,44,44.5,45,45.5,46}, xticklabels={43.0,43.5,44.0,44.5,45.0,45.5,46.0}]
\addplot[magc] coordinates {(43.00,570)(43.02,575)(43.04,568)(43.06,572)(43.08,575)(43.10,595)(43.12,575)(43.14,575)(43.18,580)(43.22,580)(43.26,570)(43.28,580)(43.30,580)(43.34,582)(43.36,595)(43.40,600)(43.42,600)(43.44,588)(43.46,615)(43.48,650)(43.50,640)(43.52,630)(43.54,640)(43.56,655)(43.58,695)(43.60,675)(43.62,690)(43.64,740)(43.66,745)(43.68,770)(43.70,805)(43.72,845)(43.74,905)(43.76,860)(43.78,925)(43.80,938)(43.82,980)(43.84,1040)(43.86,1010)(43.88,1025)(43.90,1060)(43.92,1045)(43.94,1028)(43.96,988)(43.98,1090)(44.00,1070)(44.02,1055)(44.04,1060)(44.06,1145)(44.08,1140)(44.10,1068)(44.12,1085)(44.14,1102)(44.16,1095)(44.18,1070)(44.20,1080)(44.22,1095)(44.24,1030)(44.26,1070)(44.28,968)(44.30,990)(44.32,1008)(44.34,978)(44.36,960)(44.38,895)(44.40,900)(44.42,855)(44.44,840)(44.46,810)(44.48,790)(44.50,808)(44.52,740)(44.54,730)(44.56,732)(44.58,690)(44.60,678)(44.62,685)(44.64,692)(44.66,680)(44.68,650)(44.70,615)(44.72,640)(44.74,625)(44.76,620)(44.78,618)(44.80,615)(44.82,610)(44.84,605)(44.86,595)(44.88,590)(44.92,590)(44.96,582)(45.00,580)(45.04,572)(45.08,582)(45.12,575)(45.16,578)(45.18,568)(45.20,575)(45.24,572)(45.28,575)(45.32,568)(45.36,570)(45.38,560)(45.40,568)(45.44,560)(45.48,578)(45.52,570)(45.56,555)(45.58,570)(45.62,568)(45.66,565)(45.70,568)(45.74,565)(45.78,568)(45.82,570)(45.86,565)(45.90,562)(45.94,562)(45.96,555)(45.98,565)(46.00,565)};
\addplot[bluc] coordinates {(43.00,382)(43.02,375)(43.04,385)(43.06,378)(43.08,372)(43.10,380)(43.12,378)(43.14,375)(43.18,382)(43.22,385)(43.26,382)(43.30,385)(43.34,385)(43.38,388)(43.42,392)(43.44,380)(43.46,375)(43.48,392)(43.50,395)(43.52,375)(43.54,400)(43.56,390)(43.58,400)(43.60,408)(43.62,405)(43.64,410)(43.66,412)(43.68,415)(43.70,420)(43.72,410)(43.74,430)(43.76,455)(43.78,465)(43.80,455)(43.82,470)(43.84,435)(43.86,460)(43.88,470)(43.90,525)(43.92,520)(43.94,515)(43.96,595)(43.98,575)(44.00,600)(44.02,610)(44.04,630)(44.06,665)(44.08,695)(44.10,720)(44.12,768)(44.14,735)(44.16,745)(44.18,778)(44.20,790)(44.22,845)(44.24,795)(44.26,820)(44.28,835)(44.30,870)(44.32,902)(44.34,862)(44.36,835)(44.38,818)(44.40,895)(44.42,870)(44.44,898)(44.46,875)(44.48,912)(44.50,875)(44.52,935)(44.54,900)(44.56,790)(44.58,800)(44.60,775)(44.62,805)(44.64,745)(44.66,685)(44.68,685)(44.70,680)(44.72,620)(44.74,610)(44.76,570)(44.78,550)(44.80,535)(44.82,530)(44.84,505)(44.86,482)(44.88,488)(44.90,470)(44.92,452)(44.94,445)(44.96,425)(44.98,418)(45.00,410)(45.02,402)(45.04,405)(45.06,398)(45.08,402)(45.10,385)(45.12,400)(45.14,392)(45.16,392)(45.18,395)(45.20,388)(45.22,392)(45.24,382)(45.26,390)(45.28,392)(45.30,385)(45.32,382)(45.34,385)(45.36,368)(45.38,380)(45.40,375)(45.42,385)(45.44,372)(45.46,385)(45.48,390)(45.50,368)(45.52,385)(45.54,375)(45.56,380)(45.58,375)(45.60,382)(45.64,370)(45.68,372)(45.72,385)(45.76,370)(45.80,378)(45.84,375)(45.88,378)(45.92,375)(45.96,375)(46.00,372)};
\addplot[redc] coordinates {(43.00,120)(43.02,118)(43.04,115)(43.06,118)(43.08,128)(43.10,115)(43.12,118)(43.14,115)(43.16,120)(43.18,118)(43.20,120)(43.22,130)(43.24,115)(43.26,120)(43.28,122)(43.30,128)(43.32,115)(43.34,125)(43.36,130)(43.38,120)(43.40,125)(43.42,132)(43.44,122)(43.46,128)(43.48,122)(43.50,138)(43.52,145)(43.54,140)(43.56,132)(43.58,142)(43.60,128)(43.62,145)(43.64,140)(43.66,150)(43.68,148)(43.70,152)(43.72,148)(43.74,145)(43.76,170)(43.78,175)(43.80,182)(43.82,190)(43.84,205)(43.86,230)(43.88,238)(43.90,265)(43.92,258)(43.94,320)(43.96,350)(43.98,420)(44.00,430)(44.02,460)(44.04,495)(44.06,522)(44.08,510)(44.10,560)(44.12,605)(44.14,645)(44.16,580)(44.18,610)(44.20,645)(44.22,695)(44.24,610)(44.26,635)(44.28,665)(44.30,690)(44.32,695)(44.34,695)(44.36,700)(44.38,725)(44.40,712)(44.42,680)(44.44,715)(44.46,690)(44.48,722)(44.50,695)(44.52,680)(44.54,660)(44.56,620)(44.58,612)(44.60,608)(44.62,618)(44.64,590)(44.66,545)(44.68,532)(44.70,555)(44.72,500)(44.74,452)(44.76,440)(44.78,392)(44.80,342)(44.82,335)(44.84,285)(44.86,280)(44.88,238)(44.90,232)(44.92,215)(44.94,195)(44.96,185)(44.98,175)(45.00,148)(45.02,150)(45.04,150)(45.06,150)(45.08,150)(45.10,140)(45.12,135)(45.14,138)(45.16,132)(45.18,128)(45.20,135)(45.22,130)(45.24,132)(45.26,128)(45.28,122)(45.30,125)(45.32,122)(45.34,120)(45.36,120)(45.38,125)(45.40,118)(45.42,122)(45.44,108)(45.46,120)(45.48,115)(45.50,118)(45.52,115)(45.54,118)(45.56,110)(45.58,120)(45.60,115)(45.64,112)(45.68,118)(45.72,115)(45.76,112)(45.80,115)(45.84,118)(45.88,122)(45.92,120)(45.96,115)(45.98,108)(46.00,125)};
\Ttl{43.05}{1130}{1100°C}
\end{axis}
%================ outer labels ================
\node[rotate=90,font=\fontsize{23}{25}\selectfont] at (11pt,-275.5pt) {Intensity (a.u.)};
\node[font=\fontsize{9.5}{11}\selectfont] at (152.75pt,-566.5pt) {2Theta (deg.)};
\node[font=\fontsize{9.5}{11}\selectfont] at (430.25pt,-566.5pt) {2Theta (deg.)};
\node[font=\fontsize{18}{20}\selectfont] at (152.75pt,-593.5pt) {(a)};
\node[font=\fontsize{18}{20}\selectfont] at (430.25pt,-593.5pt) {(b)};
\end{tikzpicture}
\end{document}
